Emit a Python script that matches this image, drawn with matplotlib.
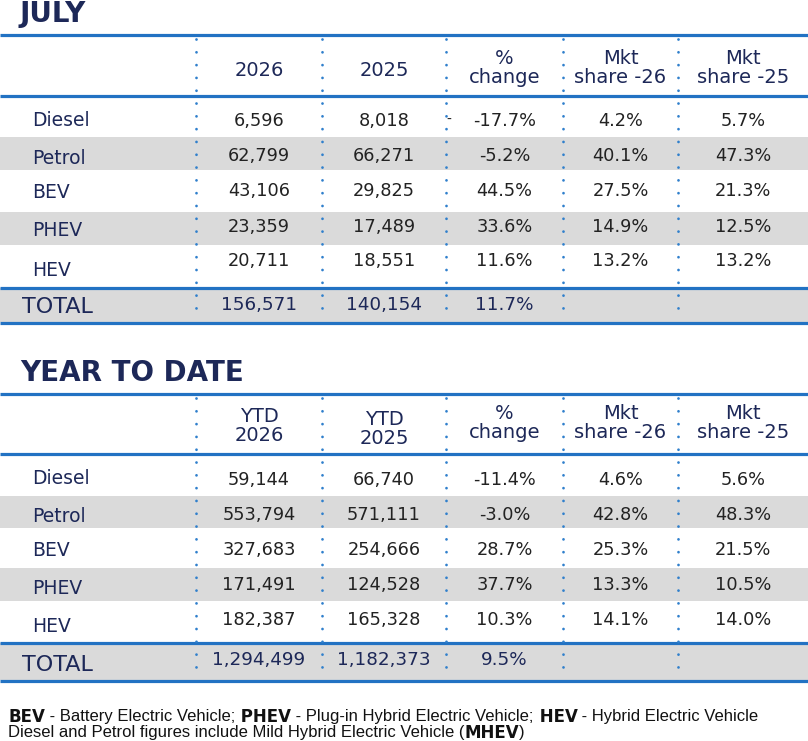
import matplotlib
matplotlib.use("Agg")
import matplotlib.pyplot as plt

# table data
rows = ['Diesel', 'Petrol', 'BEV', 'PHEV', 'HEV']

july_2026 = [6596, 62799, 43106, 23359, 20711]
july_2025 = [8018, 66271, 29825, 17489, 18551]
july_change = [-17.7, -5.2, 44.5, 33.6, 11.6]
july_share26 = [4.2, 40.1, 27.5, 14.9, 13.2]
july_share25 = [5.7, 47.3, 21.3, 12.5, 13.2]
july_total = [156571, 140154, 11.7]

ytd_2026 = [59144, 553794, 327683, 171491, 182387]
ytd_2025 = [66740, 571111, 254666, 124528, 165328]
ytd_change = [-11.4, -3.0, 28.7, 37.7, 10.3]
ytd_share26 = [4.6, 42.8, 25.3, 13.3, 14.1]
ytd_share25 = [5.6, 48.3, 21.5, 10.5, 14.0]
ytd_total = [1294499, 1182373, 9.5]

july_headers = ['2026', '2025', '%\nchange', 'Mkt\nshare -26', 'Mkt\nshare -25']
ytd_headers = ['YTD\n2026', 'YTD\n2025', '%\nchange', 'Mkt\nshare -26', 'Mkt\nshare -25']

NAVY = '#1d2858'
BLUE = '#2272c3'
DOT = '#2f7fcc'
GRAY = '#dadada'
INK = '#222222'
FONT = 'DejaVu Sans'

fig = plt.figure(figsize=(8.08, 7.41), dpi=100)
ax = fig.add_axes([0, 0, 1, 1])
ax.set_xlim(0, 808)
ax.set_ylim(741, 0)
ax.axis('off')

col_edges = [196, 322, 446, 563, 678, 808]
col_mid = [(col_edges[i] + col_edges[i + 1]) / 2 for i in range(5)]


def draw_block(title, title_y, lines, bands, headers, head_y, label_y, num_y,
               total_label_y, total_num_y, cols, total):
    ax.text(20, title_y, title, fontsize=20, fontweight='bold', color=NAVY,
            family=FONT, va='baseline', ha='left')
    for y0, y1 in bands:
        ax.fill_between([0, 808], y0, y1, color=GRAY, lw=0, zorder=0)
    for y in lines:
        ax.plot([0, 808], [y, y], color=BLUE, lw=2.3, solid_capstyle='butt', zorder=2)
    for x in col_edges[:-1]:
        ax.plot([x, x], [lines[0] + 4, lines[-1] - 3], color=DOT, lw=2,
                linestyle=(0, (0.01, 4.6)), dash_capstyle='round', zorder=3)
    for i, h in enumerate(headers):
        ax.text(col_mid[i], head_y[i], h, fontsize=14, color=NAVY, family=FONT,
                ha='center', va='center', linespacing=1.0)
    for r, name in enumerate(rows):
        ax.text(32, label_y[r], name, fontsize=13.5, color=NAVY, family=FONT,
                ha='left', va='center')
        vals = [f'{cols[0][r]:,}', f'{cols[1][r]:,}', f'{cols[2][r]:.1f}%',
                f'{cols[3][r]:.1f}%', f'{cols[4][r]:.1f}%']
        for c, v in enumerate(vals):
            ax.text(col_mid[c], num_y[r], v, fontsize=12.8, color=INK, family=FONT,
                    ha='center', va='center')
    ax.text(22, total_label_y, 'TOTAL', fontsize=16, color=NAVY, family=FONT,
            ha='left', va='center')
    tv = [f'{total[0]:,}', f'{total[1]:,}', f'{total[2]:.1f}%']
    for c, v in enumerate(tv):
        ax.text(col_mid[c], total_num_y, v, fontsize=13.2, color=NAVY, family=FONT,
                ha='center', va='center')


draw_block('JULY', 22, [35, 96, 288, 323], [(137, 170), (212, 245), (288, 322)],
           july_headers, [71, 70, 68, 68, 68],
           [121, 159, 192, 231, 270], [121, 156, 191, 227, 261], 307, 305,
           [july_2026, july_2025, july_change, july_share26, july_share25], july_total)
# stray dash in the July diesel row
ax.text(449, 120, '-', fontsize=10, color=INK, family=FONT, ha='center', va='center')

draw_block('YEAR TO DATE', 381, [394, 454, 643, 681], [(496, 528), (568, 601), (643, 680)],
           ytd_headers, [426, 429, 423, 423, 423],
           [479, 517, 550, 588, 626], [480, 515, 550, 585, 620], 665, 660,
           [ytd_2026, ytd_2025, ytd_change, ytd_share26, ytd_share25], ytd_total)

# footnote with mixed weights
renderer = fig.canvas.get_renderer()


def draw_runs(x, y, runs):
    for s, bold in runs:
        t = ax.text(x, y, s, fontsize=12, color='#111111', va='center', ha='left',
                    family=FONT if bold else 'Liberation Sans',
                    fontweight='bold' if bold else 'normal')
        x += t.get_window_extent(renderer=renderer).width


draw_runs(8, 717, [('BEV', True), (' - Battery Electric Vehicle;', False),
                   (' PHEV', True), (' - Plug-in Hybrid Electric Vehicle;', False),
                   (' HEV', True), (' - Hybrid Electric Vehicle', False)])
draw_runs(8, 733, [('Diesel and Petrol figures include Mild Hybrid Electric Vehicle (', False),
                   ('MHEV', True), (')', False)])

fig.savefig('out.png', dpi=100)
